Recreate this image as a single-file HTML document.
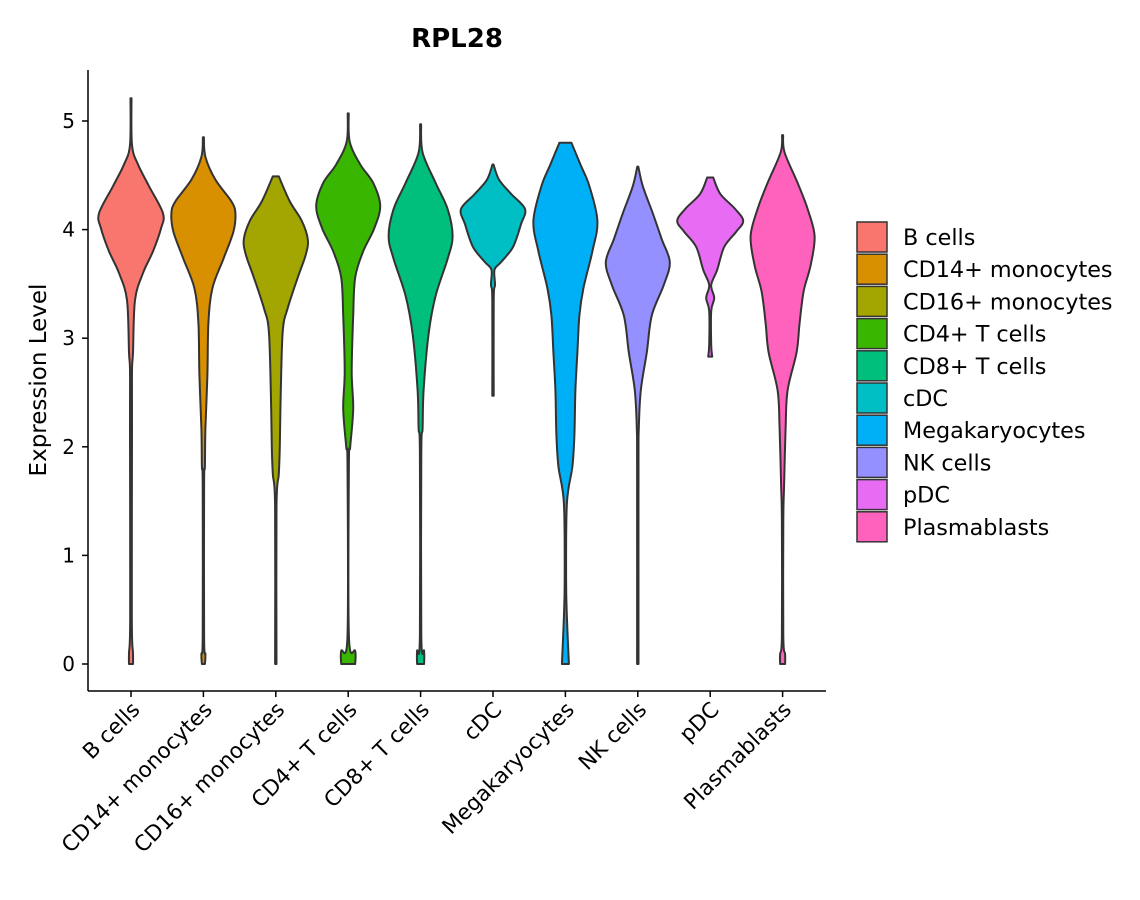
<!DOCTYPE html>
<html><head><meta charset="utf-8"><style>
html,body{margin:0;padding:0;background:#fff;}
svg{display:block;font-family:"DejaVu Sans","Liberation Sans",sans-serif;}
</style></head><body>
<svg id="chart" width="1140" height="900" viewBox="0 0 1140 900" xmlns="http://www.w3.org/2000/svg">
<text x="457" y="47" text-anchor="middle" font-size="26" font-weight="bold" fill="#000">RPL28</text>
<text transform="translate(46,380) rotate(-90)" text-anchor="middle" font-size="23" fill="#000">Expression Level</text>
<g id="plot"></g>
<g id="legend"></g>
</svg>
<script>
const categories=["B cells","CD14+ monocytes","CD16+ monocytes","CD4+ T cells","CD8+ T cells","cDC","Megakaryocytes","NK cells","pDC","Plasmablasts"];
const colors=["#F8766D","#D89000","#A3A500","#39B600","#00BF7D","#00BFC4","#00B0F6","#9590FF","#E76BF3","#FF62BC"];
const yTicks=[0,1,2,3,4,5];
// each violin: expression levels (top->bottom) and half-width density (px at max 32)
const levels0=[5.21,4.78,4.60,4.40,4.15,4.01,3.80,3.60,3.35,2.87,2.70,2.17,0.43,0.10,0];
const dens0=[0,1,7,18,32,30,22,12,4,2,1,1,0.8,2,2];
const levels1=[4.85,4.67,4.46,4.26,4.15,3.98,3.73,3.46,3.14,2.66,2.17,1.82,1.65,0.26,0.09,0];
const dens1=[0,2,12,28,32,30,20,9,5,4,2,1.5,0.7,0.7,2,1.5];
const levels2=[4.49,4.26,4.08,3.91,3.77,3.56,3.28,3.07,2.52,2.0,1.75,1.45,0];
const dens2=[3,14,26,32,30,22,12,7,5,4,3,0.7,0.7];
const levels3=[5.07,4.81,4.60,4.43,4.22,4.01,3.80,3.56,3.21,2.69,2.35,2.0,1.82,0.26,0.12,0];
const dens3=[0,1.5,12,25,32,26,15,7,5,3.5,5,2,0.7,0.7,7,7];
const levels4=[4.97,4.71,4.43,4.19,3.94,3.73,3.39,3.04,2.52,2.17,1.93,0.26,0.12,0];
const dens4=[0,2,15,27,32,27,15,8,3,2,0.7,0.7,3.5,3.5];
const levels5=[4.60,4.46,4.33,4.19,4.05,3.84,3.70,3.63,3.49,3.35,2.47];
const dens5=[0,6,18,32,28,20,8,1.5,2,0.7,0.7];
const levels6=[4.80,4.60,4.40,4.08,3.80,3.46,3.21,2.87,2.52,2.11,1.82,1.48,0.78,0.43,0];
const dens6=[6,15,24,32,27,18,14,12,10,9,7,1.5,0.7,1.5,3.5];
const levels7=[4.58,4.40,4.15,3.91,3.70,3.49,3.21,2.87,2.52,2.17,1.82,0];
const dens7=[0,5,15,24,32,26,14,9,3,1,0.7,0.7];
const levels8=[4.48,4.33,4.19,4.08,3.98,3.84,3.63,3.49,3.37,3.25,2.94,2.83];
const dens8=[3,10,25,33,26,14,7,1,4,1,1,2];
const levels9=[4.87,4.71,4.43,4.19,3.94,3.67,3.43,3.14,2.87,2.52,2.17,1.65,1.30,0.26,0.09,0];
const dens9=[0,2,15,25,32,28,21,17,14,5,3,1.5,0.7,0.7,2.5,2.5];
const allLevels=[levels0,levels1,levels2,levels3,levels4,levels5,levels6,levels7,levels8,levels9];
const allDens=[dens0,dens1,dens2,dens3,dens4,dens5,dens6,dens7,dens8,dens9];

const NS="http://www.w3.org/2000/svg";
const plot=document.getElementById('plot');
const legend=document.getElementById('legend');
const X0=88,X1=826,Y0=691;
const yScale=v=>664-v*108.6;
const xScale=i=>131+i*72.4;
function mk(tag,attrs,parent){const e=document.createElementNS(NS,tag);for(const k in attrs)e.setAttribute(k,attrs[k]);parent.appendChild(e);return e;}
function smooth(pts){
  let d=`M${pts[0][0]},${pts[0][1]}`;
  for(let i=0;i<pts.length-1;i++){
    const p0=pts[Math.max(i-1,0)],p1=pts[i],p2=pts[i+1],p3=pts[Math.min(i+2,pts.length-1)];
    const c1=[p1[0]+(p2[0]-p0[0])/6,p1[1]+(p2[1]-p0[1])/6];
    const c2=[p2[0]-(p3[0]-p1[0])/6,p2[1]-(p3[1]-p1[1])/6];
    d+=` C${c1[0]},${c1[1]} ${c2[0]},${c2[1]} ${p2[0]},${p2[1]}`;
  }
  return d;
}
categories.forEach((c,i)=>{
  const cx=xScale(i),L=allLevels[i],D=allDens[i];
  const right=L.map((v,k)=>[cx+Math.max(D[k],0.5),yScale(v)]);
  const left=L.map((v,k)=>[cx-Math.max(D[k],0.5),yScale(v)]).reverse();
  const sl=smooth(left);
  let d=smooth(right)+` L${left[0][0]},${left[0][1]}`+sl.slice(sl.indexOf('C')-1)+' Z';
  const p=mk('path',{d:d,fill:colors[i],stroke:'#333','stroke-width':2,'stroke-linejoin':'round'},plot);
  
  
  const t=mk('line',{x1:cx,x2:cx,y1:Y0,y2:Y0+6,stroke:'#000','stroke-width':1.5},plot);
  
  
  const lb=mk('text',{transform:`translate(${cx+10},${Y0+20}) rotate(-45)`,'text-anchor':'end','font-size':21.5,fill:'#000'},plot);
  lb.textContent=c;
  
  
  const ly=222+i*32.2;
  const r=mk('rect',{x:857,y:ly,width:30,height:30,fill:colors[i],stroke:'#333','stroke-width':1.5},legend);
  
  
  const lt=mk('text',{x:903,y:ly+23,'font-size':22.3,fill:'#000'},legend);
  lt.textContent=c;
  
  
});
yTicks.forEach(v=>{
  const y=yScale(v);
  const t=mk('line',{x1:X0-6,x2:X0,y1:y,y2:y,stroke:'#000','stroke-width':1.5},plot);
  
  
  const l=mk('text',{x:X0-13,y:y+7,'text-anchor':'end','font-size':20,fill:'#000'},plot);
  l.textContent=v;
  
  
});
const ax=mk('line',{x1:X0,x2:X0,y1:70,y2:Y0,stroke:'#000','stroke-width':1.5},plot);


const bx=mk('line',{x1:X0,x2:X1,y1:Y0,y2:Y0,stroke:'#000','stroke-width':1.5},plot);


</script>
</body></html>
